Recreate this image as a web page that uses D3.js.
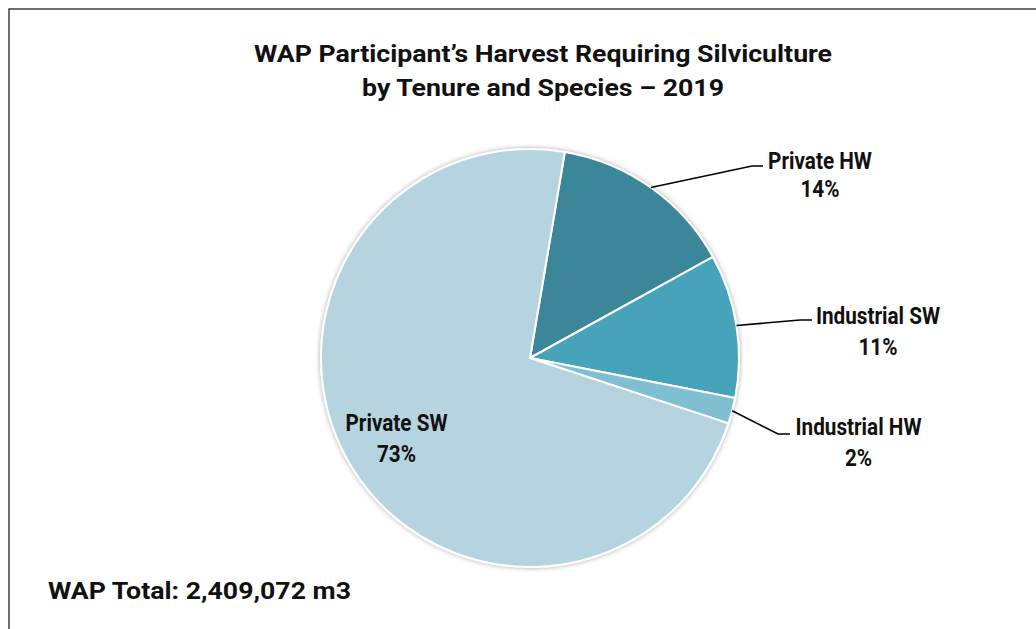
<!DOCTYPE html>
<html><head><meta charset="utf-8">
<script src="https://cdn.jsdelivr.net/npm/d3@7"></script>
<style>
html,body{margin:0;padding:0;background:#fff;}
text{font-family:Roboto,"Liberation Sans",sans-serif;font-weight:700;fill:#111;}
</style></head>
<body><svg id="chart" width="1036" height="629"></svg>
<script>
const categories = ["Private HW", "Industrial SW", "Industrial HW", "Private SW"];
const values = [14.3, 11.1, 2.0, 72.6];
const pctLabels = ["14%", "11%", "2%", "73%"];
const colors = ["#3a8799", "#47a3ba", "#80bfd1", "#b6d4df"];
const titleLines = ["WAP Participant\u2019s Harvest Requiring Silviculture", "by Tenure and Species \u2013 2019"];
const footer = "WAP Total: 2,409,072 m3";

const svg = d3.select("#chart");
// frame
svg.append("rect").attr("x", 9).attr("y", 9).attr("width", 1040).attr("height", 640)
  .attr("fill", "none").attr("stroke", "#222").attr("stroke-width", 1.3);

const titleLens = [578, 362];
svg.selectAll("text.title").data(titleLines).join("text").attr("class","title")
  .attr("x", 543).attr("y", (d,i)=>62+i*34).attr("text-anchor","middle")
  .attr("font-size", 23).attr("textLength",(d,i)=>titleLens[i]).attr("lengthAdjust","spacingAndGlyphs").text(d=>d);

svg.append("text").attr("x", 48).attr("y", 598.5).attr("font-size", 23.5)
  .attr("textLength",303).attr("lengthAdjust","spacingAndGlyphs").text(footer);

const cx = 530, cy = 358, r = 209;
const startDeg = 9.6;
const pie = d3.pie().sort(null).value(d=>d)
  .startAngle(startDeg*Math.PI/180).endAngle(startDeg*Math.PI/180 + 2*Math.PI);
const arcs = pie(values);
const arc = d3.arc().innerRadius(0).outerRadius(r);

const defs = svg.append("defs");
const f = defs.append("filter").attr("id","sh").attr("x","-10%").attr("y","-10%").attr("width","120%").attr("height","120%");
f.append("feGaussianBlur").attr("in","SourceAlpha").attr("stdDeviation",2.5).attr("result","b");
f.append("feComponentTransfer").attr("in","b").attr("result","o2").append("feFuncA").attr("type","linear").attr("slope",0.35);
const m = f.append("feMerge"); m.append("feMergeNode").attr("in","o2"); m.append("feMergeNode").attr("in","SourceGraphic");

const g = svg.append("g").attr("transform", `translate(${cx},${cy})`);
g.append("g").attr("filter","url(#sh)").selectAll("path").data(arcs).join("path")
  .attr("d", arc).attr("fill", (d,i)=>colors[i]).attr("stroke","#fff").attr("stroke-width",2).attr("stroke-linejoin","round");

// outside labels with leader lines
const outside = [
  {i:0, elbow:[752,166], end:[763,166], lx:820, ly:169, ly2:197},
  {i:1, elbow:[800,320], end:[812,320], lx:878, ly:324, ly2:355},
  {i:2, elbow:[778,434], end:[790,434], lx:858.5, ly:435, ly2:466}
];
const line = d3.line();
const sx = 0.9, fs = 23;
outside.forEach(o=>{
  const a = arcs[o.i];
  const mid = (a.startAngle + a.endAngle)/2;
  const p0 = [cx + r*Math.sin(mid), cy - r*Math.cos(mid)];
  svg.append("path").attr("d", line([p0, o.elbow, o.end])).attr("fill","none")
    .attr("stroke","#000").attr("stroke-width",1.6);
  const t = svg.append("g").attr("transform", `translate(${o.lx},0) scale(${sx},1)`);
  t.append("text").attr("text-anchor","middle").attr("y",o.ly).attr("font-size",fs).text(categories[o.i]);
  t.append("text").attr("text-anchor","middle").attr("y",o.ly2).attr("font-size",fs).text(pctLabels[o.i]);
});
// inside label
const tin = svg.append("g").attr("transform", `translate(396.5,0) scale(${sx},1)`);
tin.append("text").attr("text-anchor","middle").attr("y",431).attr("font-size",fs).text(categories[3]);
tin.append("text").attr("text-anchor","middle").attr("y",462).attr("font-size",fs).text(pctLabels[3]);
</script></body></html>
